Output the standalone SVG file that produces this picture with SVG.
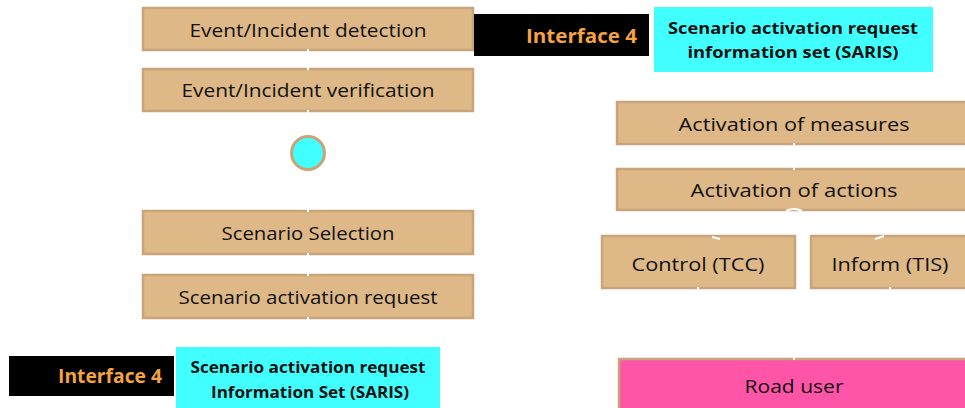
<svg xmlns="http://www.w3.org/2000/svg" width="965" height="408" viewBox="0 0 965 408">
  <style>
    .box { fill: #DEB887; stroke: #C9A47B; stroke-width: 2.5; }
    .road { fill: #FF55A9; stroke: #C9A47B; stroke-width: 2.5; }
    .lbl { font-family: "Open Sans", "Liberation Sans", sans-serif; font-size: 19px; fill: #111; text-anchor: middle; }
    .iface { fill: #000; }
    .ifaceTxt { font-family: "Open Sans", "Liberation Sans", sans-serif; font-size: 19px; font-weight: bold; fill: #F4A340; text-anchor: end; }
    .info { fill: #42FFFF; }
    .infoTxt { font-family: "Open Sans", "Liberation Sans", sans-serif; font-size: 16px; font-weight: bold; fill: #111; text-anchor: middle; }
    .conn { stroke: #FFFFFF; stroke-width: 2; fill: none; }
  </style>

  <!-- left process chain -->
  <g id="detection">
    <rect class="box" x="143" y="8" width="330" height="42"/>
    <text class="lbl" x="308" y="37" textLength="237" lengthAdjust="spacingAndGlyphs">Event/Incident detection</text>
  </g>
  <g id="verification">
    <rect class="box" x="143" y="69" width="330" height="42"/>
    <text class="lbl" x="308" y="97" textLength="253" lengthAdjust="spacingAndGlyphs">Event/Incident verification</text>
  </g>
  <g id="decision">
    <circle cx="308" cy="153" r="16.5" fill="#42FFFF" stroke="#C9A47B" stroke-width="3"/>
  </g>
  <g id="selection">
    <rect class="box" x="143" y="211" width="330" height="43"/>
    <text class="lbl" x="308" y="240" textLength="173" lengthAdjust="spacingAndGlyphs">Scenario Selection</text>
  </g>
  <g id="activation-request">
    <rect class="box" x="143" y="275" width="330" height="43"/>
    <text class="lbl" x="308" y="304" textLength="259" lengthAdjust="spacingAndGlyphs">Scenario activation request</text>
  </g>

  <!-- right process chain -->
  <g id="measures">
    <rect class="box" x="617" y="102" width="352" height="42"/>
    <text class="lbl" x="794" y="131" textLength="231" lengthAdjust="spacingAndGlyphs">Activation of measures</text>
  </g>
  <g id="actions">
    <rect class="box" x="617" y="169" width="352" height="41"/>
    <text class="lbl" x="794" y="197" textLength="207" lengthAdjust="spacingAndGlyphs">Activation of actions</text>
  </g>
  <g id="control">
    <rect class="box" x="602" y="236" width="193" height="52"/>
    <text class="lbl" x="698" y="271" textLength="133" lengthAdjust="spacingAndGlyphs">Control (TCC)</text>
  </g>
  <g id="inform">
    <rect class="box" x="811" y="236" width="158" height="52"/>
    <text class="lbl" x="890" y="271" textLength="117" lengthAdjust="spacingAndGlyphs">Inform (TIS)</text>
  </g>
  <g id="road-user">
    <rect class="road" x="619" y="359" width="350" height="52"/>
    <text class="lbl" x="794" y="393" textLength="99" lengthAdjust="spacingAndGlyphs">Road user</text>
  </g>

  <!-- interface labels -->
  <g id="interface-top">
    <rect class="iface" x="474" y="14" width="175" height="42"/>
    <text class="ifaceTxt" x="637" y="43" textLength="111" lengthAdjust="spacingAndGlyphs">Interface 4</text>
  </g>
  <g id="saris-top">
    <rect class="info" x="654" y="7" width="279" height="65"/>
    <text class="infoTxt" x="793" y="34" textLength="250" lengthAdjust="spacingAndGlyphs">Scenario activation request</text>
    <text class="infoTxt" x="793" y="58" textLength="211" lengthAdjust="spacingAndGlyphs">information set (SARIS)</text>
  </g>
  <g id="interface-bottom">
    <rect class="iface" x="9" y="356" width="165" height="40"/>
    <text class="ifaceTxt" x="162" y="383" textLength="104" lengthAdjust="spacingAndGlyphs">Interface 4</text>
  </g>
  <g id="saris-bottom">
    <rect class="info" x="176" y="347" width="264" height="61"/>
    <text class="infoTxt" x="308" y="373" textLength="235" lengthAdjust="spacingAndGlyphs">Scenario activation request</text>
    <text class="infoTxt" x="310" y="398" textLength="198" lengthAdjust="spacingAndGlyphs">Information Set (SARIS)</text>
  </g>

  <!-- connectors (white strokes between the steps) -->
  <g id="connectors">
    <path class="conn" d="M308 49 V70"/>
    <path class="conn" d="M308 110 V134"/>
    <path class="conn" d="M308 172 V212"/>
    <path class="conn" d="M308 253 V276"/>
    <path class="conn" d="M308 317 V321"/>
    <path class="conn" d="M794 143 V170"/>
    <path class="conn" d="M786 211 Q794 207 802 211"/>
    <path class="conn" d="M712 237 L720 239"/>
    <path class="conn" d="M875 239 L884 236"/>
    <path class="conn" d="M698 287 V290"/>
    <path class="conn" d="M890 287 V290"/>
    <path class="conn" d="M794 357 V360"/>
  </g>
</svg>
